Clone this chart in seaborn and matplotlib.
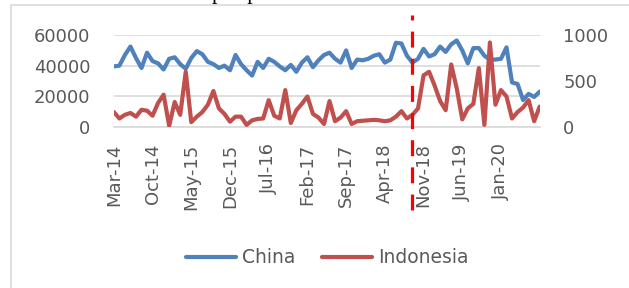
"""
Monthly import volume: China vs Indonesia (twin axis line chart)
"""

import numpy as np
import matplotlib
matplotlib.use("Agg")
import matplotlib.pyplot as plt
from matplotlib.patches import Rectangle
import seaborn as sns

# ---------------- DATA ----------------
tick_labels = ["Mar-14", "Oct-14", "May-15", "Dec-15", "Jul-16", "Feb-17",
               "Sep-17", "Apr-18", "Nov-18", "Jun-19", "Jan-20", ""]

china = [39500, 40000, 47000, 52500, 45000, 38500, 48500, 43000, 41500, 37500,
         44500, 45500, 41000, 38000, 45000, 49500, 47500, 42500, 41000, 38500,
         40000, 37000, 47000, 41000, 37000, 33500, 42500, 38500, 44500, 42500,
         39500, 37000, 40500, 36000, 42000, 45500, 39000, 43500, 47000, 48500,
         44500, 42000, 50000, 38500, 44000, 43500, 44500, 46500, 47500, 42000,
         44000, 55000, 54500, 46500, 42000, 44500, 51000, 46000, 47500, 52500,
         49000, 54000, 56500, 50000, 41500, 51500, 51500, 46500, 44000, 44000,
         44500, 52000, 29000, 28000, 17500, 21500, 19500, 23000]

indonesia = [160, 90, 130, 150, 110, 185, 175, 120, 260, 350,
             10, 270, 130, 600, 50, 110, 160, 240, 390, 200,
             140, 55, 110, 110, 20, 70, 85, 90, 290, 120,
             90, 400, 40, 180, 250, 330, 140, 100, 30, 280,
             60, 100, 170, 30, 60, 65, 70, 75, 70, 60,
             70, 110, 170, 90, 130, 200, 560, 600, 450, 280,
             180, 680, 420, 80, 200, 250, 640, 20, 920, 240,
             400, 330, 90, 160, 210, 290, 60, 220]

series_names = ["China", "Indonesia"]
event_month = 54  # Sep-18

# ---------------- STYLE ----------------
BLUE = "#4f81bd"
RED = "#c0504d"
GRID = "#d9d9d9"
TXT = "#595959"

sns.set_style("white")
plt.rcParams["font.family"] = ["DejaVu Sans"]

months = np.arange(len(china))

fig = plt.figure(figsize=(6.29, 2.88), dpi=100)
ax = fig.add_axes([0.181, 0.56, 0.677, 0.318])
ax2 = ax.twinx()

sns.lineplot(x=months, y=china, ax=ax, color=BLUE, lw=3, label=series_names[0], legend=False)
sns.lineplot(x=months, y=indonesia, ax=ax2, color=RED, lw=3, label=series_names[1], legend=False)

# ---------------- AXES ----------------
ax.set_xlim(0, len(china) - 1)
ax.set_ylim(0, 60000)
ax.set_yticks([0, 20000, 40000, 60000])
ax2.set_ylim(0, 1000)
ax2.set_yticks([0, 500, 1000])

ax.set_xticks(np.arange(0, len(china), 7))
ax.set_xticklabels(tick_labels, rotation=90)

ax.grid(axis="y", color=GRID, lw=1.2)
ax.set_axisbelow(True)
for a in (ax, ax2):
    for s in a.spines.values():
        s.set_visible(False)
ax.spines["bottom"].set_visible(True)
ax.spines["bottom"].set_color(GRID)
ax.spines["bottom"].set_linewidth(1.2)

ax.tick_params(axis="y", length=0, pad=17, labelsize=13, labelcolor=TXT)
ax2.tick_params(axis="y", length=0, pad=17, labelsize=13, labelcolor=TXT)
ax.tick_params(axis="x", length=5, width=1.2, color=GRID, pad=7, labelsize=13, labelcolor=TXT)

# event marker
vl = ax2.axvline(event_month, ymin=-0.91, ymax=1.22, color="red", lw=2.3, clip_on=False)
vl.set_dashes((5, 3.5))

# ---------------- LEGEND ----------------
h1, l1 = ax.get_legend_handles_labels()
h2, l2 = ax2.get_legend_handles_labels()
leg = fig.legend(h1 + h2, l1 + l2, loc="center", bbox_to_anchor=(0.52, 0.105), ncol=2,
                 frameon=False, fontsize=13.5, handlelength=2.7, handletextpad=0.3,
                 columnspacing=1.4)
for t in leg.get_texts():
    t.set_color(TXT)

# frame + caption cut off at the top edge (as in the source page)
fig.patches.append(Rectangle((11 / 629, -0.05), 1.0, 1.05 - 5 / 288, transform=fig.transFigure,
                             fill=False, edgecolor=GRID, lw=1.2))
fig.text(15 / 629, 1 + 1.5 / 288, "Gambar 1. Volume impor per bulan CNS:",
         family="Liberation Serif", fontsize=16, va="baseline", color="black")

fig.savefig("out.png", dpi=100)
